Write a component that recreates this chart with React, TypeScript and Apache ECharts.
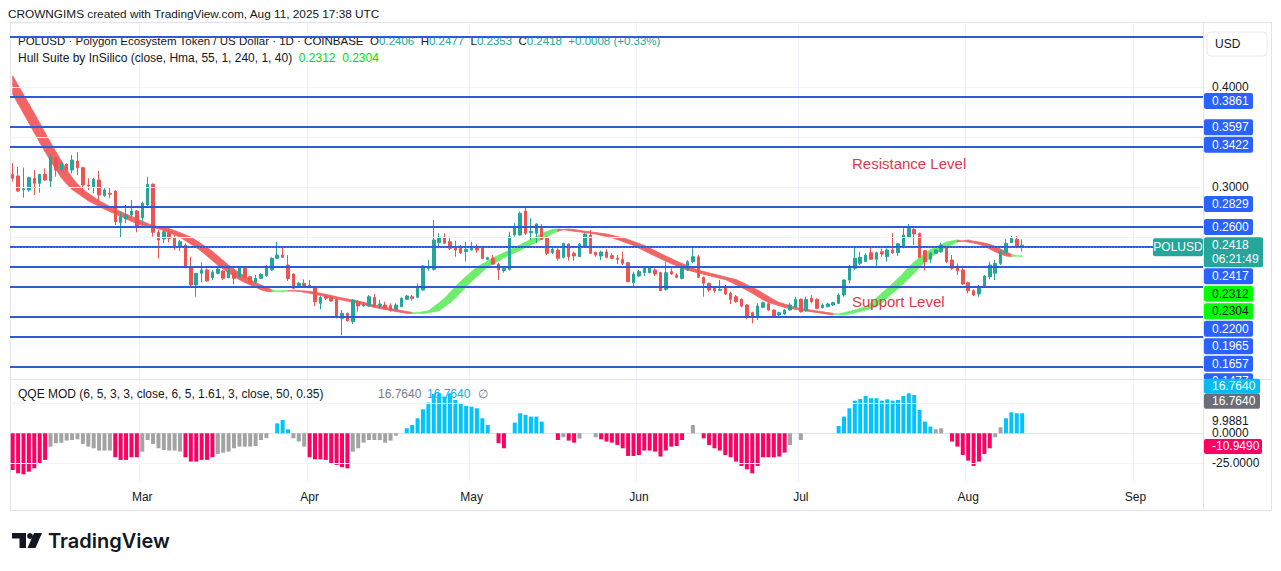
import React, { useEffect, useRef } from "react";
import * as echarts from "echarts";

const FONT = '"Liberation Sans", Arial, sans-serif';
const INK = "#131722";
const TEAL = "#26a69a";
const RED = "#ef5350";
const BLUE = "#2962ff";
const LINE_BLUE = "#2d5bd8";
const HULL_UP = "#6cee6c";
const HULL_DOWN = "#f26464";
const TONE_COLORS: Record<string, string> = { p: "#ff0062", g: "#a3a3a3", b: "#00c3ff" };

// ---- time scale ----
const START_UTC = Date.UTC(2025, 1, 5);
const VISIBLE_DAYS = 221;
const MONTH_NAMES = ["Jan", "Feb", "Mar", "Apr", "May", "Jun", "Jul", "Aug", "Sep", "Oct", "Nov", "Dec"];
const DATES: string[] = Array.from({ length: VISIBLE_DAYS }, (_, i) =>
  new Date(START_UTC + i * 86400000).toISOString().slice(0, 10)
);

// ---- daily candles (POLUSD, Coinbase) ----
const OPEN = [
  .3127, .3110, .2973, .2970, .3087, .3037, .3127, .3060, .3287, .3170,
  .3227, .3170, .3260, .3193, .3020, .3003, .3070, .2913, .2937, .2960,
  .2647, .2680, .2720, .2760, .2693, .2820, .3027, .2547, .2480, .2547,
  .2493, .2403, .2420, .2193, .2020, .2137, .2170, .2093, .2137, .2160,
  .2093, .2137, .2103, .2187, .2103, .2047, .2087, .2113, .2170, .2287,
  .2320, .2220, .2130, .2003, .2037, .2020, .2000, .1837, .1903, .1897,
  .1877, .1687, .1737, .1653, .1853, .1810, .1810, .1897, .1810, .1820,
  .1813, .1777, .1803, .1877, .1903, .1897, .1970, .2187, .2177, .2443,
  .2497, .2453, .2397, .2387, .2353, .2370, .2393, .2393, .2277, .2287,
  .2230, .2163, .2177, .2520, .2520, .2760, .2543, .2537, .2587, .2497,
  .2343, .2370, .2297, .2430, .2337, .2303, .2410, .2520, .2347, .2310,
  .2350, .2313, .2287, .2277, .2243, .2043, .2110, .2143, .2143, .2170,
  .2143, .1977, .2153, .2120, .2087, .2170, .2253, .2303, .2097, .2037,
  .1987, .1967, .2003, .1937, .1903, .1877, .1820, .1743, .1710, .1797,
  .1833, .1770, .1720, .1730, .1770, .1797, .1877, .1763, .1887, .1877,
  .1793, .1803, .1820, .1837, .1920, .2070, .2187, .2237, .2253, .2343,
  .2277, .2353, .2303, .2370, .2343, .2403, .2497, .2577, .2537, .2363,
  .2277, .2337, .2353, .2397, .2270, .2210, .2170, .2043, .1963, .1930,
  .2003, .2103, .2137, .2237, .2343, .2443, .2477, .2406,
];
const HIGH = [
  .3237, .3200, .3193, .3103, .3170, .3130, .3187, .3320, .3303, .3253,
  .3237, .3320, .3347, .3203, .3087, .3093, .3160, .2987, .2993, .2970,
  .2753, .2820, .2870, .2770, .2853, .3103, .3037, .2570, .2570, .2593,
  .2520, .2470, .2437, .2303, .2140, .2247, .2187, .2170, .2187, .2170,
  .2187, .2187, .2203, .2203, .2113, .2120, .2137, .2220, .2297, .2453,
  .2410, .2320, .2135, .2053, .2077, .2070, .2005, .1910, .1920, .1910,
  .1880, .1770, .1743, .1877, .1870, .1837, .1920, .1930, .1870, .1853,
  .1837, .1837, .1897, .1920, .1920, .2037, .2220, .2270, .2670, .2537,
  .2537, .2503, .2463, .2420, .2453, .2453, .2427, .2403, .2303, .2320,
  .2243, .2210, .2553, .2637, .2753, .2800, .2687, .2637, .2630, .2500,
  .2403, .2387, .2440, .2437, .2353, .2440, .2537, .2570, .2353, .2363,
  .2377, .2337, .2320, .2353, .2253, .2153, .2170, .2203, .2210, .2187,
  .2153, .2253, .2187, .2137, .2203, .2270, .2387, .2320, .2103, .2043,
  .1997, .2070, .2020, .1953, .1920, .1887, .1830, .1753, .1837, .1853,
  .1837, .1775, .1753, .1777, .1837, .1903, .1887, .1903, .1920, .1887,
  .1837, .1843, .1853, .1937, .2077, .2220, .2403, .2353, .2337, .2403,
  .2353, .2387, .2387, .2537, .2437, .2587, .2630, .2587, .2543, .2370,
  .2353, .2377, .2443, .2403, .2320, .2237, .2203, .2053, .1977, .2020,
  .2120, .2253, .2270, .2370, .2477, .2510, .2510, .2477,
];
const LOW = [
  .3053, .2950, .2893, .2953, .2920, .2943, .3065, .2993, .3103, .3153,
  .3153, .3137, .3120, .2920, .2970, .2937, .2860, .2903, .2887, .2620,
  .2493, .2637, .2703, .2547, .2653, .2803, .2503, .2287, .2437, .2447,
  .2370, .2360, .2187, .1993, .1903, .2047, .2053, .2070, .2127, .2070,
  .2087, .2027, .2093, .2087, .2037, .2040, .2083, .2103, .2163, .2280,
  .2290, .2060, .1977, .1997, .1997, .1987, .1810, .1777, .1870, .1853,
  .1687, .1520, .1653, .1630, .1753, .1803, .1803, .1797, .1787, .1777,
  .1753, .1770, .1797, .1870, .1863, .1887, .1963, .2163, .2163, .2387,
  .2430, .2370, .2303, .2330, .2253, .2363, .2343, .2277, .2270, .2220,
  .2070, .2143, .2163, .2503, .2515, .2520, .2470, .2437, .2470, .2320,
  .2330, .2263, .2287, .2263, .2263, .2300, .2403, .2330, .2303, .2270,
  .2287, .2277, .2230, .2220, .2050, .2003, .2097, .2110, .2137, .2110,
  .1960, .1963, .2120, .2087, .2077, .2163, .2237, .2087, .1903, .1953,
  .1943, .1963, .1920, .1830, .1843, .1797, .1677, .1637, .1670, .1787,
  .1763, .1697, .1710, .1720, .1765, .1787, .1743, .1753, .1837, .1777,
  .1787, .1797, .1810, .1830, .1903, .2037, .2170, .2220, .2250, .2270,
  .2203, .2303, .2253, .2330, .2310, .2387, .2487, .2420, .2287, .2163,
  .2237, .2330, .2343, .2237, .2170, .2120, .2020, .1937, .1910, .1903,
  .1997, .2077, .2070, .2220, .2340, .2440, .2387, .2353,
];
const CLOSE = [
  .3087, .2960, .2983, .3093, .3037, .3127, .3070, .3293, .3170, .3237,
  .3170, .3270, .3193, .3020, .3010, .3077, .2920, .2970, .2927, .2653,
  .2703, .2720, .2760, .2603, .2837, .3027, .2547, .2470, .2553, .2487,
  .2403, .2453, .2193, .2020, .2137, .2170, .2060, .2147, .2180, .2087,
  .2160, .2087, .2193, .2093, .2047, .2087, .2127, .2193, .2287, .2320,
  .2297, .2085, .1987, .2037, .2010, .2003, .1853, .1897, .1887, .1860,
  .1697, .1737, .1663, .1870, .1810, .1820, .1903, .1810, .1830, .1787,
  .1770, .1820, .1887, .1910, .1887, .1987, .2210, .2203, .2470, .2497,
  .2437, .2387, .2370, .2343, .2377, .2397, .2370, .2287, .2293, .2230,
  .2170, .2187, .2503, .2603, .2737, .2537, .2557, .2630, .2477, .2337,
  .2377, .2287, .2437, .2303, .2310, .2430, .2530, .2337, .2320, .2350,
  .2297, .2287, .2277, .2237, .2053, .2130, .2153, .2187, .2197, .2130,
  .1963, .2143, .2130, .2097, .2187, .2253, .2303, .2097, .2037, .1970,
  .1963, .1977, .1930, .1877, .1853, .1810, .1710, .1697, .1810, .1843,
  .1770, .1703, .1743, .1770, .1820, .1877, .1753, .1877, .1853, .1787,
  .1820, .1830, .1843, .1920, .2070, .2203, .2287, .2297, .2320, .2277,
  .2343, .2330, .2370, .2343, .2433, .2520, .2587, .2530, .2297, .2253,
  .2337, .2370, .2420, .2253, .2187, .2163, .2030, .1963, .1920, .1997,
  .2110, .2220, .2237, .2353, .2437, .2487, .2410, .2418,
];

// ---- Hull Suite (HMA 55): value per bar, plus the two bars before the window ----
const HULL_BEFORE = [0.4112, 0.4018];
const HULL = [
  .3924, .3832, .3737, .3640, .3543, .3445, .3353, .3262, .3176, .3094,
  .3030, .2975, .2937, .2899, .2863, .2834, .2805, .2779, .2754, .2730,
  .2706, .2682, .2658, .2634, .2615, .2605, .2594, .2583, .2564, .2543,
  .2521, .2499, .2464, .2429, .2394, .2356, .2310, .2264, .2218, .2179,
  .2143, .2108, .2073, .2045, .2020, .1997, .1972, .1957, .1952, .1960,
  .1963, .1963, .1961, .1956, .1948, .1938, .1927, .1915, .1902, .1890,
  .1881, .1871, .1859, .1847, .1834, .1821, .1809, .1796, .1785, .1775,
  .1765, .1755, .1746, .1738, .1735, .1742, .1752, .1762, .1802, .1842,
  .1888, .1945, .2002, .2058, .2106, .2153, .2200, .2230, .2261, .2292,
  .2317, .2342, .2368, .2395, .2422, .2449, .2476, .2505, .2534, .2556,
  .2575, .2580, .2574, .2566, .2558, .2551, .2544, .2537, .2530, .2517,
  .2505, .2492, .2474, .2455, .2436, .2416, .2389, .2362, .2335, .2309,
  .2284, .2258, .2234, .2212, .2189, .2168, .2155, .2141, .2128, .2114,
  .2101, .2087, .2074, .2050, .2023, .1996, .1969, .1937, .1905, .1872,
  .1845, .1829, .1813, .1796, .1785, .1777, .1768, .1760, .1752, .1744,
  .1736, .1728, .1720, .1730, .1742, .1756, .1770, .1786, .1805, .1840,
  .1890, .1939, .1986, .2034, .2084, .2141, .2199, .2251, .2293, .2334,
  .2373, .2399, .2424, .2450, .2461, .2470, .2458, .2450, .2440, .2427,
  .2408, .2380, .2352, .2328, .2310, .2304, .2311, .2312,
];

// ---- QQE MOD histogram ----
const QQE = [
  -30.6, -33.3, -34.2, -32.0, -29.2, -25.0, -22.2, -11.1, -8.3, -7.8,
  -6.1, -5.6, -5.0, -8.9, -11.1, -12.5, -14.4, -14.4, -14.4, -20.0,
  -22.2, -22.2, -20.0, -20.0, -15.3, -5.6, -8.9, -12.5, -13.9, -14.4,
  -14.4, -15.3, -20.0, -23.6, -23.6, -22.2, -22.2, -20.0, -17.2, -16.1,
  -15.3, -12.5, -11.1, -11.1, -11.1, -10.6, -5.6, -4.0, 0, 8.3,
  11.1, 3.3, -4.2, -6.9, -11.1, -20.0, -21.7, -21.7, -22.2, -25.0,
  -26.4, -28.3, -29.2, -15.3, -12.5, -7.8, -5.6, -5.6, -5.6, -7.8,
  -6.1, -2.0, 0, 4.2, 6.9, 12.5, 20.0, 25.6, 32.8, 33.3,
  30.6, 33.3, 27.8, 24.4, 22.8, 22.2, 20.8, 12.5, 6.9, 0,
  -8.3, -12.5, 0, 8.9, 16.7, 15.3, 13.9, 13.9, 9.7, 0,
  0, -5.6, -3.3, -6.1, -7.8, -4.4, 0, 0, -3.3, -5.0,
  -6.9, -7.8, -9.7, -12.5, -18.9, -18.9, -18.1, -14.4, -14.4, -15.3,
  -19.4, -14.4, -11.1, -10.6, -5.6, 0, 6.9, 0, -4.2, -9.7,
  -12.5, -14.4, -18.1, -20.0, -23.6, -27.2, -30.0, -33.3, -27.2, -20.0,
  -20.0, -20.0, -19.4, -16.1, -9.7, 0, -5.6, 0, 0, 0,
  0, 0, 0, 6.1, 13.9, 20.8, 27.2, 28.6, 31.1, 29.2,
  29.2, 27.2, 28.3, 27.2, 27.8, 31.1, 33.3, 31.9, 19.4, 9.7,
  5.6, 3.3, 4.2, 0, -6.9, -11.1, -18.1, -22.8, -27.2, -23.6,
  -17.2, -12.5, -3.3, 5.0, 12.5, 17.5, 16.7, 16.764,
];
const QQE_TONE = [
  "pppppppggg", "gggggggggp", "ppppgggggg", "ggppppppgg", "gggggggggb",
  "bbgggppppp", "pppggggggg", "gggbbbbbbb", "bbbbbbbbbg", "ppgbbbbbbg",
  "gpgppggggp", "pppppppppp", "pppppgggpp", "pppppppppp", "ppppgggggg",
  "gggbbbbbbb", "bbbbbbbbbb", "bgggpppppp", "ppggbbbb",
].join("").split("");

// ---- drawings / levels ----
const LEVELS = [0.447, 0.3861, 0.3597, 0.3422, 0.2829, 0.26, 0.2417, 0.22, 0.1965, 0.1657, 0.1477, 0.12];
const LEVEL_TAGS = [0.3861, 0.3597, 0.3422, 0.2829, 0.26, 0.2417, 0.22, 0.1965, 0.1657, 0.1477];
const PRICE_GRID = [0.15, 0.2, 0.25, 0.3, 0.35, 0.4, 0.45];
const PRICE_TICK_LABELS = [0.4, 0.3];
const QQE_GRID = [25, -25];
const QQE_TICK_LABELS = [0, -25];
const QQE_LEVEL = 9.9881;
const QQE_LINE_LAST = -10.949;
const COUNTDOWN = "06:21:49";

const LAST = CLOSE.length - 1;
const HULL_ALL = [...HULL_BEFORE, ...HULL];

const isMonthStart = (_i: number, v: string) => v.slice(8, 10) === "01";

function buildOption() {
  const candleData = OPEN.map((o, i) => [o, CLOSE[i], LOW[i], HIGH[i]]);
  const hullData = HULL.map((h, i) => [i, h, HULL_ALL[i]]);
  const qqeData = QQE.map((v, i) => ({ value: v, itemStyle: { color: TONE_COLORS[QQE_TONE[i]] } }));
  return {
    animation: false,
    backgroundColor: "#ffffff",
    textStyle: { fontFamily: FONT },
    grid: [
      { left: 10, right: 78, top: 22, height: 356 },
      { left: 10, right: 78, top: 380, height: 102 },
    ],
    xAxis: [
      {
        type: "category", gridIndex: 0, data: DATES, boundaryGap: true,
        axisLine: { show: false }, axisTick: { show: false }, axisLabel: { show: false },
        splitLine: { show: true, interval: isMonthStart, lineStyle: { color: "#f0f3fa" } },
      },
      {
        type: "category", gridIndex: 1, data: DATES, boundaryGap: true,
        axisLine: { show: true, lineStyle: { color: "#e0e3eb" } }, axisTick: { show: false },
        axisLabel: {
          show: true, interval: isMonthStart, color: INK, fontSize: 12, fontFamily: FONT, margin: 9,
          formatter: (v: string) => MONTH_NAMES[Number(v.slice(5, 7)) - 1],
        },
        splitLine: { show: true, interval: isMonthStart, lineStyle: { color: "#f0f3fa" } },
      },
    ],
    yAxis: [
      { type: "value", gridIndex: 0, min: 0.109, max: 0.465, show: false },
      { type: "value", gridIndex: 1, min: -40.6, max: 44.4, show: false },
    ],
    series: [
      {
        type: "line", xAxisIndex: 0, yAxisIndex: 0, data: [], z: 0, silent: true,
        markLine: {
          silent: true, symbol: ["none", "none"], label: { show: false },
          lineStyle: { color: "#f0f3fa", width: 1, type: "solid" },
          data: PRICE_GRID.map((v) => ({ yAxis: v })),
        },
      },
      {
        type: "custom", xAxisIndex: 0, yAxisIndex: 0, data: hullData, z: 2, silent: true,
        encode: { x: 0, y: [1, 2] },
        renderItem: (_p: any, api: any) => {
          const i = api.value(0);
          if (i < 1) return null;
          const mPrev = HULL_ALL[i + 1];
          const mCur = HULL_ALL[i + 2];
          const sPrev = HULL_ALL[i - 1];
          const sCur = HULL_ALL[i];
          const color = mCur > sCur ? HULL_UP : HULL_DOWN;
          return {
            type: "polygon",
            shape: { points: [api.coord([i - 1, mPrev]), api.coord([i, mCur]), api.coord([i, sCur]), api.coord([i - 1, sPrev])] },
            style: { fill: color, stroke: color, lineWidth: 0.8 },
          };
        },
      },
      {
        type: "candlestick", xAxisIndex: 0, yAxisIndex: 0, data: candleData, z: 3, barWidth: 3,
        itemStyle: { color: TEAL, color0: RED, borderColor: TEAL, borderColor0: RED, borderWidth: 1 },
      },
      {
        type: "line", xAxisIndex: 0, yAxisIndex: 0, data: [], z: 5, silent: true,
        markLine: {
          silent: true, symbol: ["none", "none"], label: { show: false },
          lineStyle: { color: LINE_BLUE, width: 2, type: "solid" },
          data: [
            ...LEVELS.map((v) => ({ yAxis: v })),
            { yAxis: CLOSE[LAST], lineStyle: { color: TEAL, width: 1, type: [1, 2] } },
          ],
        },
      },
      {
        type: "bar", xAxisIndex: 1, yAxisIndex: 1, data: qqeData, barWidth: 4, z: 2,
        markLine: {
          silent: true, symbol: ["none", "none"], label: { show: false },
          lineStyle: { color: "#f0f3fa", width: 1, type: "solid" },
          data: QQE_GRID.map((v) => ({ yAxis: v })),
        },
      },
    ],
  };
}

function txt(x: number, y: number, text: string, fill = INK, size = 12, extra: any = {}) {
  return {
    type: "text", x, y, z: extra.z ?? 20, silent: true,
    style: {
      text, fill, fontSize: size, fontFamily: extra.family ?? FONT, verticalAlign: "middle",
      align: extra.align ?? "left", fontWeight: extra.weight ?? "normal",
    },
  };
}

function buildGraphics(chart: any) {
  const py = (v: number) => chart.convertToPixel({ yAxisIndex: 0 }, v);
  const qy = (v: number) => chart.convertToPixel({ yAxisIndex: 1 }, v);
  const els: any[] = [];
  const frame = "#e0e3eb";

  // frame
  els.push({ type: "rect", z: 1, silent: true, shape: { x: 10.5, y: 22.5, width: 1261, height: 488 }, style: { fill: "none", stroke: frame } });
  els.push({ type: "line", z: 1, silent: true, shape: { x1: 1203.5, y1: 22, x2: 1203.5, y2: 510 }, style: { stroke: frame } });

  // header
  els.push(txt(8, 14, "CROWNGIMS created with TradingView.com, Aug 11, 2025 17:38 UTC", INK, 11.8));

  // legends
  const o = OPEN[LAST].toFixed(4), h = HIGH[LAST].toFixed(4), l = LOW[LAST].toFixed(4), c = CLOSE[LAST].toFixed(4);
  const ch = CLOSE[LAST] - CLOSE[LAST - 1];
  const pct = (ch / CLOSE[LAST - 1]) * 100;
  els.push({
    type: "text", x: 18, y: 41, z: 1, silent: true,
    style: {
      text: `POLUSD · Polygon Ecosystem Token / US Dollar · 1D · COINBASE  O{v|${o}}  H{v|${h}}  L{v|${l}}  C{v|${c}}  {v|+${ch.toFixed(4)} (+${pct.toFixed(2)}%)}`,
      fill: INK, fontSize: 11.5, fontFamily: FONT, verticalAlign: "middle",
      rich: { v: { fill: TEAL, fontSize: 11.5, fontFamily: FONT } },
    },
  });
  els.push({
    type: "text", x: 18, y: 58, z: 1, silent: true,
    style: {
      text: `Hull Suite by InSilico (close, Hma, 55, 1, 240, 1, 40)  {g|${HULL[LAST].toFixed(4)}}  {g|${HULL[LAST - 2].toFixed(4)}}`,
      fill: INK, fontSize: 12, fontFamily: FONT, verticalAlign: "middle",
      rich: { g: { fill: "#00dd00", fontSize: 12, fontFamily: FONT } },
    },
  });
  els.push({ ...txt(18, 394, "QQE MOD (6, 5, 3, 3, close, 6, 5, 1.61, 3, close, 50, 0.35)"), z: 1 });
  els.push({ ...txt(378, 394, QQE[LAST].toFixed(4), "#787b86"), z: 1 });
  els.push({ ...txt(427, 394, QQE[LAST].toFixed(4), "#00b4f0"), z: 1 });
  els.push({ ...txt(478, 394, "∅", "#787b86"), z: 1 });

  // annotations
  els.push(txt(852, 163, "Resistance Level", "#e0394a", 15));
  els.push(txt(852, 301, "Support Level", "#e0394a", 15));

  // price scale: plain tick labels
  PRICE_TICK_LABELS.forEach((v) => els.push(txt(1212, py(v), v.toFixed(4))));

  // price scale tags (stacked)
  const tags: any[] = [
    ...LEVEL_TAGS.map((v) => ({ v, lines: [v.toFixed(4)], bg: BLUE, fg: "#ffffff", w: 49 })),
    { v: CLOSE[LAST], lines: [CLOSE[LAST].toFixed(4), COUNTDOWN], bg: TEAL, fg: "#ffffff", w: 59, last: true },
    { v: HULL[LAST], lines: [HULL[LAST].toFixed(4)], bg: "#00ff00", fg: INK, w: 49 },
    { v: HULL[LAST - 2], lines: [HULL[LAST - 2].toFixed(4)], bg: "#00ff00", fg: INK, w: 49 },
  ].sort((a, b) => b.v - a.v);
  let nextTop = -1e9;
  tags.forEach((t) => {
    const y = py(t.v);
    const hgt = t.lines.length === 2 ? 30 : 16;
    const pitch = t.lines.length === 2 ? 31 : 17.5;
    const top = Math.max(y - 8, nextTop);
    nextTop = top + pitch;
    els.push({ type: "rect", z: 21, silent: true, shape: { x: 1204, y: top, width: t.w, height: hgt, r: 2 }, style: { fill: t.bg } });
    t.lines.forEach((s: string, k: number) => els.push({ ...txt(1212, top + 8 + k * 13.5, s, t.fg), z: 22 }));
    if (t.last) {
      els.push({ type: "rect", z: 21, silent: true, shape: { x: 1153, y: top + 1, width: 50, height: 18, r: 2 }, style: { fill: TEAL } });
      els.push({ ...txt(1178, top + 10, "POLUSD", "#ffffff", 12, { align: "center" }), z: 22 });
    }
  });

  // QQE pane right scale (covers overflow of price tags)
  els.push({ type: "rect", z: 23, silent: true, shape: { x: 1204, y: 379, width: 67, height: 103 }, style: { fill: "#ffffff" } });
  els.push({ type: "line", z: 24, silent: true, shape: { x1: 10, y1: 379.5, x2: 1271, y2: 379.5 }, style: { stroke: frame } });
  els.push({ type: "line", z: 24, silent: true, shape: { x1: 1203.5, y1: 379, x2: 1203.5, y2: 510 }, style: { stroke: frame } });
  QQE_TICK_LABELS.forEach((v) => els.push({ ...txt(1212, qy(v), v.toFixed(4)), z: 25 }));
  const lvY = qy(QQE_LEVEL);
  els.push({ ...txt(1212, lvY, QQE_LEVEL.toFixed(4)), z: 25 });
  const qTags = [
    { y: lvY - 35, s: QQE[LAST].toFixed(4), bg: "#00bcf2", w: 56 },
    { y: lvY - 20, s: QQE[LAST].toFixed(4), bg: "#6a6d78", w: 56 },
    { y: qy(QQE_LINE_LAST), s: QQE_LINE_LAST.toFixed(4), bg: "#ff0062", w: 58 },
  ];
  qTags.forEach((t) => {
    els.push({ type: "rect", z: 25, silent: true, shape: { x: 1204, y: t.y - 7.5, width: t.w, height: 15, r: 2 }, style: { fill: t.bg } });
    els.push({ ...txt(1212, t.y, t.s, "#ffffff"), z: 26 });
  });

  // currency box
  els.push({ type: "rect", z: 21, silent: true, shape: { x: 1207, y: 32, width: 60, height: 24, r: 4 }, style: { fill: "#ffffff", stroke: "#e8eaf0" } });
  els.push({ ...txt(1215, 44, "USD"), z: 22 });

  // TradingView logo
  els.push({
    type: "group", x: 12, y: 533, silent: true, z: 20,
    children: [
      { type: "rect", shape: { x: 0, y: 0, width: 14, height: 5.5 }, style: { fill: INK } },
      { type: "rect", shape: { x: 7.5, y: 0, width: 6.5, height: 15 }, style: { fill: INK } },
      { type: "circle", shape: { cx: 18, cy: 3, r: 2.9 }, style: { fill: INK } },
      { type: "polygon", shape: { points: [[22, 0], [30, 0], [23.5, 15], [15.5, 15]] }, style: { fill: INK } },
    ],
  });
  els.push(txt(48, 541, "TradingView", INK, 20, { weight: 600, family: "Inter, Roboto, sans-serif" }));

  return els;
}

export default function App() {
  const ref = useRef<HTMLDivElement>(null);
  useEffect(() => {
    document.body.style.margin = "0";
    const chart = echarts.init(ref.current!, undefined, { renderer: "svg" });
    chart.setOption(buildOption() as any);
    chart.setOption({ graphic: buildGraphics(chart) } as any);
    return () => chart.dispose();
  }, []);
  return <div ref={ref} style={{ width: 1281, height: 571 }} />;
}
